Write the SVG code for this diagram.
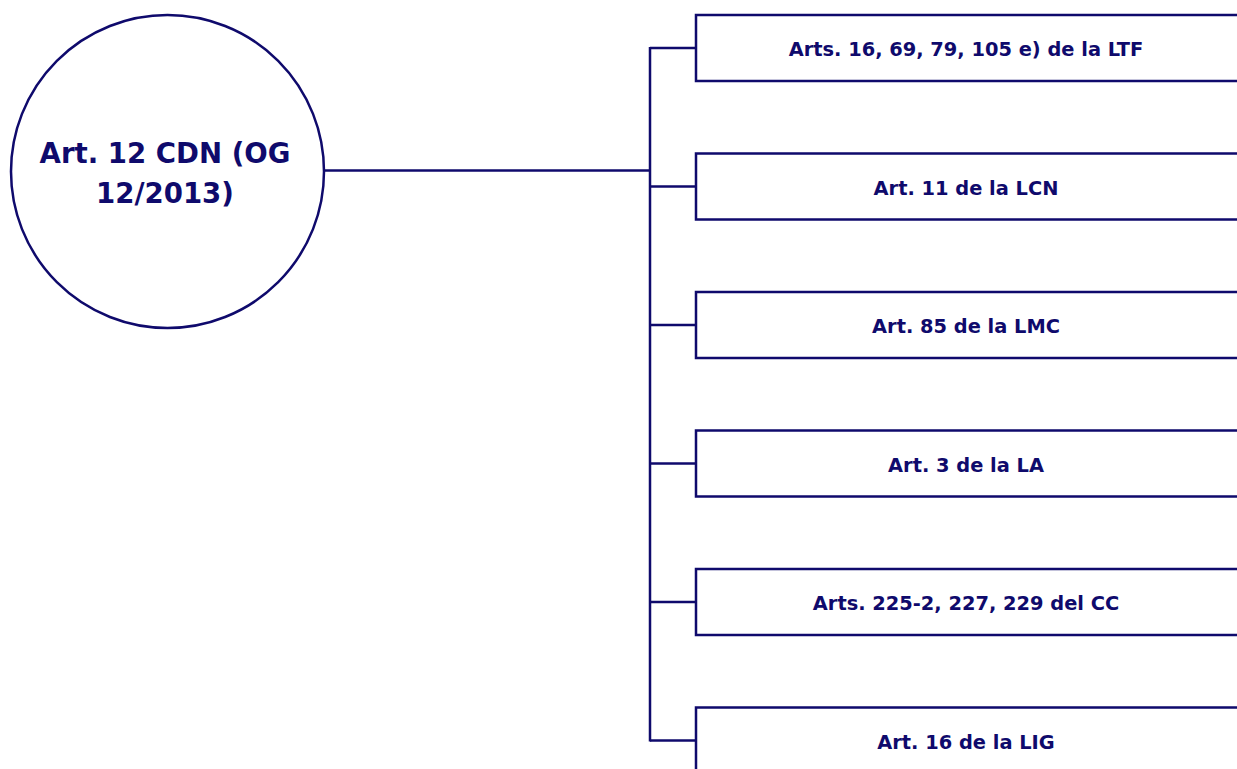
<svg xmlns="http://www.w3.org/2000/svg" width="1237" height="769" viewBox="0 0 1237 769">
<style>
.s{fill:none;stroke:#0f0a6c;stroke-width:2.5}
.b{fill:#fff;stroke:#0f0a6c;stroke-width:2.5}
.t{font-family:"DejaVu Sans","Noto Sans",sans-serif;font-weight:700;fill:#0f0a6c;text-anchor:middle}
.bt{font-size:19.4px}
.ct{font-size:27.6px}
</style>
<rect width="1237" height="769" fill="#fff"/>
<g id="connectors">
<line class="s" x1="325" y1="170.5" x2="650" y2="170.5"/>
<line class="s" x1="650" y1="47" x2="650" y2="741.5"/>
<line class="s" x1="650" y1="48" x2="696" y2="48"/>
<line class="s" x1="650" y1="186.5" x2="696" y2="186.5"/>
<line class="s" x1="650" y1="325" x2="696" y2="325"/>
<line class="s" x1="650" y1="463.5" x2="696" y2="463.5"/>
<line class="s" x1="650" y1="602" x2="696" y2="602"/>
<line class="s" x1="650" y1="740.5" x2="696" y2="740.5"/>
</g>
<g id="root">
<circle class="b" cx="167.5" cy="171.5" r="156.5"/>
<text class="t ct" x="165" y="163">Art. 12 CDN (OG</text>
<text class="t ct" x="165" y="203">12/2013)</text>
</g>
<g id="n1"><rect class="b" x="696" y="15" width="545" height="66"/><text class="t bt" x="966" y="56">Arts. 16, 69, 79, 105 e) de la LTF</text></g>
<g id="n2"><rect class="b" x="696" y="153.5" width="545" height="66"/><text class="t bt" x="966" y="194.5">Art. 11 de la LCN</text></g>
<g id="n3"><rect class="b" x="696" y="292" width="545" height="66"/><text class="t bt" x="966" y="333">Art. 85 de la LMC</text></g>
<g id="n4"><rect class="b" x="696" y="430.5" width="545" height="66"/><text class="t bt" x="966" y="471.5">Art. 3 de la LA</text></g>
<g id="n5"><rect class="b" x="696" y="569" width="545" height="66"/><text class="t bt" x="966" y="610">Arts. 225-2, 227, 229 del CC</text></g>
<g id="n6"><rect class="b" x="696" y="707.5" width="545" height="66"/><text class="t bt" x="966" y="748.5">Art. 16 de la LIG</text></g>
</svg>
